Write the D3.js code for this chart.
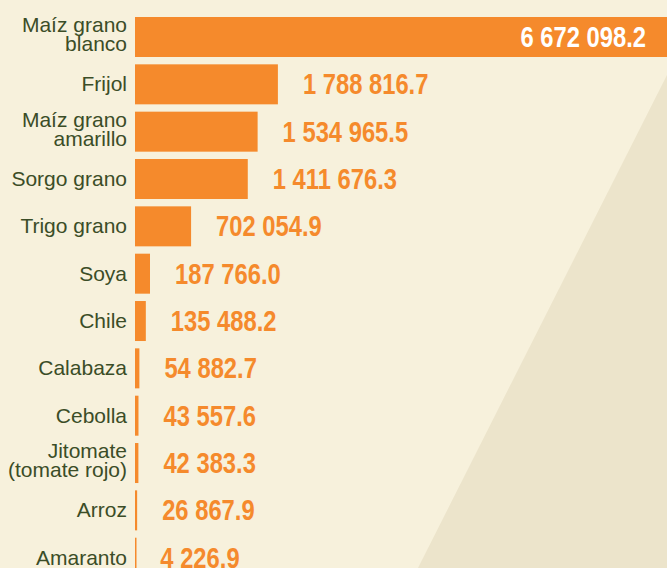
<!DOCTYPE html>
<html>
<head>
<meta charset="utf-8">
<script src="https://cdn.jsdelivr.net/npm/d3@7"></script>
<style>
  body { margin: 0; padding: 0; background: #f7f1dc; }
  svg { display: block; }
</style>
</head>
<body>
<div id="graph"></div>
<script>
    var w = 667;
    var h = 568;

    // cultivos y superficie (valores tal como aparecen en la grafica)
    var cultivos = ["Maíz grano|blanco", "Frijol", "Maíz grano|amarillo", "Sorgo grano",
                    "Trigo grano", "Soya", "Chile", "Calabaza", "Cebolla",
                    "Jitomate|(tomate rojo)", "Arroz", "Amaranto"];
    var valores = [6672098.2, 1788816.7, 1534965.5, 1411676.3, 702054.9, 187766.0,
                   135488.2, 54882.7, 43557.6, 42383.3, 26867.9, 4226.9];
    var etiquetas = ["6 672 098.2", "1 788 816.7", "1 534 965.5", "1 411 676.3", "702 054.9",
                     "187 766.0", "135 488.2", "54 882.7", "43 557.6", "42 383.3",
                     "26 867.9", "4 226.9"];

    var orange = "#f58a2c";
    var green = "#3b4d27";
    var narrow = 0.82; // condensar la fuente de los valores

    var svg = d3.select("#graph").append("svg")
        .attr("width", w)
        .attr("height", h);

    // fondo
    svg.append("rect")
        .attr("width", w).attr("height", h)
        .attr("fill", "#f7f1dc");
    svg.append("path")
        .attr("d", "M667,75 L418,568 L667,568 Z")
        .attr("fill", "#ece4cb");

    var rows = cultivos.map(function(c, i){
        return {name: c, value: valores[i], label: etiquetas[i]};
    });

    var y = d3.scaleBand()
        .domain(cultivos)
        .range([17, 577.7])
        .paddingInner(0.155)
        .paddingOuter(0);

    var x = d3.scaleLinear()
        .domain([0, d3.max(valores)])
        .range([135, 668]);

    svg.selectAll(".bar")
        .data(rows)
        .enter()
        .append("rect")
        .attr("class", "bar")
        .attr("x", x(0))
        .attr("y", function(d){ return y(d.name); })
        .attr("width", function(d){ return Math.max(x(d.value) - x(0), 1.5); })
        .attr("height", y.bandwidth())
        .attr("fill", orange);

    // nombres de cultivos
    var names = svg.selectAll(".name")
        .data(rows)
        .enter()
        .append("text")
        .attr("class", "name")
        .attr("text-anchor", "end")
        .style("font-family", "'Liberation Sans', Arial, sans-serif")
        .style("font-size", "21px")
        .attr("fill", green);

    names.each(function(d){
        var lines = d.name.split("|");
        var cy = y(d.name) + y.bandwidth() / 2;
        var t = d3.select(this);
        if (lines.length == 1) {
            t.append("tspan").attr("x", 127).attr("y", cy + 7).text(lines[0]);
        } else {
            t.append("tspan").attr("x", 127).attr("y", cy - 5).text(lines[0]);
            t.append("tspan").attr("x", 127).attr("y", cy + 14).text(lines[1]);
        }
    });

    // valores
    svg.selectAll(".value")
        .data(rows)
        .enter()
        .append("text")
        .attr("class", "value")
        .attr("transform", function(d, i){
            var tx = i == 0 ? 646 : x(d.value) + 25;
            var ty = y(d.name) + y.bandwidth() / 2 + 10;
            return "translate(" + tx + "," + ty + ") scale(" + narrow + ",1)";
        })
        .attr("text-anchor", function(d, i){ return i == 0 ? "end" : "start"; })
        .style("font-family", "'Liberation Sans', Arial, sans-serif")
        .style("font-weight", "bold")
        .style("font-size", "29px")
        .attr("fill", function(d, i){ return i == 0 ? "#ffffff" : orange; })
        .text(function(d){ return d.label; });
</script>
</body>
</html>
